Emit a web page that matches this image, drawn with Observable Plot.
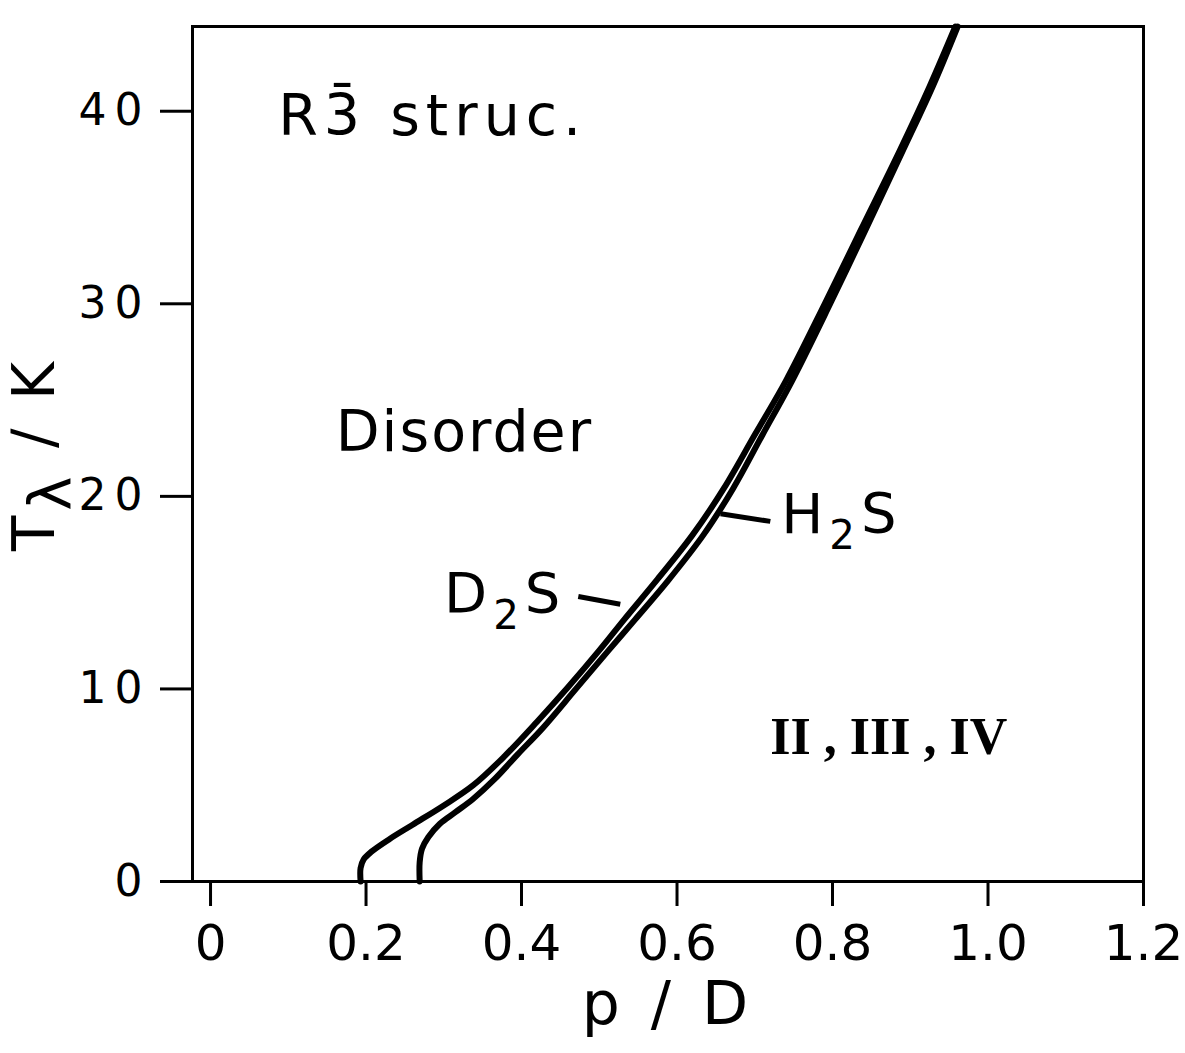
<!DOCTYPE html>
<html><head><meta charset="utf-8">
<script src="https://cdn.jsdelivr.net/npm/d3@7"></script>
<script src="https://cdn.jsdelivr.net/npm/@observablehq/plot@0.6"></script>
<style>
body{margin:0;background:#fff;}
#chart svg{font-family:"DejaVu Sans",sans-serif;}
g[aria-label="y-axis tick label"] text{letter-spacing:8px;}
</style>
</head><body><div id="chart"></div>
<script>
// D2S phase boundary (p / D, T_lambda / K)
const d2sP = [0.193,0.193,0.197,0.207,0.23,0.26,0.30,0.338,0.378,0.42,0.46,0.50,0.532,0.575,0.62,0.66,0.70,0.74,0.79,0.836,0.887,0.925,0.958];
const d2sT = [0,0.7,1.15,1.55,2.2,2.95,3.95,5.0,6.5,8.3,10.1,12.0,13.6,15.7,18.0,20.4,23.2,26.0,30.0,33.8,38.0,41.3,44.4];
// H2S phase boundary
const h2sP = [0.269,0.269,0.272,0.28,0.295,0.315,0.338,0.365,0.395,0.428,0.47,0.512,0.546,0.588,0.634,0.672,0.710,0.748,0.797,0.842,0.891,0.929,0.961];
const h2sT = [0,1.0,1.7,2.3,3.0,3.6,4.3,5.3,6.6,8.0,10.0,12.0,13.6,15.6,18.0,20.4,23.2,26.0,30.0,33.8,38.0,41.3,44.4];

const xTicks = [0,0.2,0.4,0.6,0.8,1.0,1.2];
const xTickLabels = ["0","0.2","0.4","0.6","0.8","1.0","1.2"];
const yTicks = [0,10,20,30,40];
const yTickLabels = ["0","10","20","30","40"];

const xLabel = "p / D";
const yLabel = "T\u03bb / K";

// region annotations
const regionText = ["R3\u0304 struc.", "Disorder"];
const regionP = [0.087, 0.161];
const regionT = [39.7, 23.3];
const phaseText = ["II , III , IV"];
const phaseP = [0.72];
const phaseT = [7.5];

// series labels and leader lines
const seriesNames = ["D2S", "H2S"];
const seriesLabelP = [0.379, 0.812];
const seriesLabelT = [14.9, 19.05];
const leaderP1 = [0.473, 0.656];
const leaderT1 = [14.8, 19.1];
const leaderP2 = [0.527, 0.72];
const leaderT2 = [14.4, 18.7];

const d2s = d2sP.map((p, i) => ({p, T: d2sT[i]}));
const h2s = h2sP.map((p, i) => ({p, T: h2sT[i]}));
const regions = regionText.map((t, i) => ({t, p: regionP[i], T: regionT[i]}));
const phases = phaseText.map((t, i) => ({t, p: phaseP[i], T: phaseT[i]}));
const sLabels = seriesNames.map((t, i) => ({t, p: seriesLabelP[i], T: seriesLabelT[i]}));
const leaders = seriesNames.map((t, i) => ({p1: leaderP1[i], T1: leaderT1[i], p2: leaderP2[i], T2: leaderT2[i]}));

const chart = Plot.plot({
  width: 1185,
  height: 1053,
  marginLeft: 192,
  marginRight: 42,
  marginTop: 26,
  marginBottom: 172,
  x: {domain: [-0.0232, 1.2]},
  y: {domain: [0, 44.4]},
  marks: [
    Plot.frame({stroke: "black", strokeWidth: 3}),
    Plot.axisX({ticks: xTicks, tickFormat: d => xTickLabels[xTicks.indexOf(d)], tickSize: 25, tickPadding: 18, fontSize: 50, strokeWidth: 3, label: null}),
    Plot.axisY({ticks: yTicks, tickFormat: d => yTickLabels[yTicks.indexOf(d)], tickSize: 32, tickPadding: 10, fontSize: 44, strokeWidth: 3, label: null}),
    Plot.line(d2s, {x: "p", y: "T", stroke: "black", strokeWidth: 6, curve: "catmull-rom"}),
    Plot.line(h2s, {x: "p", y: "T", stroke: "black", strokeWidth: 6, curve: "catmull-rom"}),
    Plot.link(leaders, {x1: "p1", y1: "T1", x2: "p2", y2: "T2", stroke: "black", strokeWidth: 5}),
    Plot.text(sLabels, {x: "p", y: "T", text: "t", textAnchor: "middle", fontSize: 56, fill: "black"}),
    Plot.text(regions, {x: "p", y: "T", text: "t", textAnchor: "start", fontSize: 57, fill: "black"}),
    Plot.text(phases, {x: "p", y: "T", text: "t", textAnchor: "start", fontSize: 52, fontFamily: "Liberation Serif", fontWeight: "bold", fill: "black"}),
    Plot.text([xLabel], {frameAnchor: "bottom", dy: 142, fontSize: 60, fill: "black"}),
    Plot.text([yLabel], {frameAnchor: "left", textAnchor: "middle", dx: -157, rotate: -90, fontSize: 58, fill: "black"})
  ]
});
document.getElementById("chart").appendChild(chart);

// subscripts and letter spacing for labels
d3.select(chart).selectAll("text").each(function() {
  const t = this.textContent;
  const sel = d3.select(this);
  if (t === "D2S" || t === "H2S") {
    sel.text(null).style("letter-spacing", "6px");
    sel.append("tspan").text(t[0]);
    sel.append("tspan").text("2").attr("font-size", "0.72em").attr("dy", "0.4em");
    sel.append("tspan").text("S").attr("dy", "-0.29em");
  } else if (t === yLabel) {
    sel.text(null).style("letter-spacing", "5px");
    sel.append("tspan").text("T");
    sel.append("tspan").text("\u03bb").attr("dy", "0.3em");
    sel.append("tspan").text(" / K").attr("dy", "-0.3em");
  } else if (t === regionText[0]) {
    sel.style("letter-spacing", "6px");
  } else if (t === regionText[1]) {
    sel.style("letter-spacing", "2px");
  } else if (t === xLabel) {
    sel.style("letter-spacing", "6px");
  }
});
</script>
</body></html>
